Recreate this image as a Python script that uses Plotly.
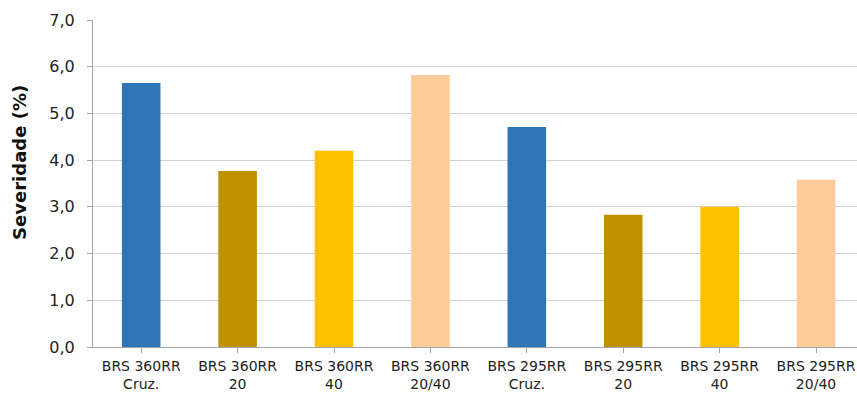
import plotly.graph_objects as go

# Cultivar / treatment categories
categories = [
    "BRS 360RR<br>Cruz.", "BRS 360RR<br>20", "BRS 360RR<br>40", "BRS 360RR<br>20/40",
    "BRS 295RR<br>Cruz.", "BRS 295RR<br>20", "BRS 295RR<br>40", "BRS 295RR<br>20/40",
]
severity = [5.65, 3.77, 4.20, 5.82, 4.71, 2.83, 3.00, 3.58]
bar_colors = ["#2E75B6", "#BF9000", "#FFC000", "#FFCC99",
              "#2E75B6", "#BF9000", "#FFC000", "#FFCC99"]
y_ticks = [0, 1, 2, 3, 4, 5, 6, 7]
y_title = "Severidade (%)"

fig = go.Figure(
    go.Bar(
        x=list(range(len(categories))),
        y=severity,
        marker=dict(color=bar_colors, line=dict(width=0)),
        width=0.4,
        hoverinfo="y",
    )
)

font_family = "DejaVu Sans, Verdana, sans-serif"

fig.update_layout(
    width=857,
    height=393,
    margin=dict(l=93, r=0, t=20, b=46),
    paper_bgcolor="white",
    plot_bgcolor="white",
    separators=",.",
    showlegend=False,
    font=dict(family=font_family, color="#222222"),
)

fig.update_xaxes(
    tickmode="array",
    tickvals=list(range(len(categories))),
    ticktext=categories,
    range=[-0.5, 7.425],
    automargin=False,
    showgrid=False,
    showline=True,
    linecolor="#a6a6a6",
    linewidth=1,
    ticks="outside",
    ticklen=5,
    tickcolor="#a6a6a6",
    tickson="boundaries",
    ticklabelstandoff=1,
    tickfont=dict(size=14, color="#222222"),
    zeroline=False,
)
fig.update_yaxes(
    range=[0, 7],
    tickmode="array",
    tickvals=y_ticks,
    tickformat=".1f",
    automargin=False,
    showgrid=True,
    gridcolor="#d0d0d0",
    gridwidth=1,
    showline=True,
    linecolor="#a6a6a6",
    linewidth=1,
    ticks="outside",
    ticklen=5,
    tickcolor="#a6a6a6",
    ticklabelstandoff=9,
    tickfont=dict(size=16, color="#222222"),
    zeroline=False,
)

# Vertical axis title
fig.add_annotation(
    text="<b>" + y_title + "</b>",
    textangle=-90,
    xref="paper", yref="paper",
    x=0, y=0.563,
    xshift=-73,
    xanchor="center", yanchor="middle",
    showarrow=False,
    font=dict(size=18, color="#111111", family=font_family),
)

fig.write_html("out.html")
